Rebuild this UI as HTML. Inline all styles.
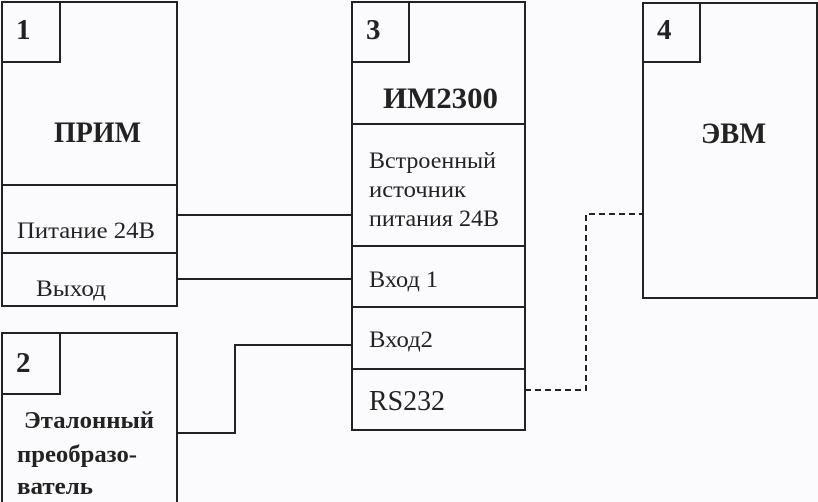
<!DOCTYPE html>
<html><head><meta charset="utf-8"><style>
body{margin:0;background:#fbfbfd;}
svg{display:block;}
text{font-family:"Liberation Serif","DejaVu Serif",serif;fill:#222;}
.b{font-weight:bold;}
</style></head><body>
<svg width="818" height="502" viewBox="0 0 818 502" xmlns="http://www.w3.org/2000/svg">
<g fill="none" stroke="#222" stroke-width="2">
<rect x="2" y="2" width="175" height="304"/>
<polyline points="2,62 60,62 60,2"/>
<line x1="2" y1="185" x2="177" y2="185"/>
<line x1="2" y1="253" x2="177" y2="253"/>
<rect x="2" y="333" width="175" height="183"/>
<polyline points="2,394 60,394 60,333"/>
<rect x="352" y="2" width="173" height="428"/>
<polyline points="352,62 409,62 409,2"/>
<line x1="352" y1="124" x2="525" y2="124"/>
<line x1="352" y1="246" x2="525" y2="246"/>
<line x1="352" y1="307" x2="525" y2="307"/>
<line x1="352" y1="369" x2="525" y2="369"/>
<rect x="643" y="3" width="174" height="295"/>
<polyline points="643,62 700,62 700,3"/>
<line x1="177" y1="215" x2="352" y2="215"/>
<line x1="177" y1="279" x2="352" y2="279"/>
<polyline points="177,433 235,433 235,345 352,345"/>
<polyline stroke-dasharray="6,4" points="525,390 586,390 586,214 643,214"/>
</g>
<text x="16" y="39" font-size="29" class="b">1</text>
<text x="366" y="39" font-size="29" class="b">3</text>
<text x="657" y="39" font-size="29" class="b">4</text>
<text x="16" y="372" font-size="29" class="b">2</text>
<text x="54" y="142" font-size="30" class="b" textLength="87" lengthAdjust="spacingAndGlyphs">ПРИМ</text>
<text x="383" y="108" font-size="30" class="b" textLength="115" lengthAdjust="spacingAndGlyphs">ИМ2300</text>
<text x="701" y="143" font-size="30" class="b" textLength="65" lengthAdjust="spacingAndGlyphs">ЭВМ</text>
<text x="17" y="238" font-size="23" textLength="138" lengthAdjust="spacingAndGlyphs">Питание 24В</text>
<text x="36" y="296" font-size="23" textLength="70" lengthAdjust="spacingAndGlyphs">Выход</text>
<text x="369" y="168" font-size="23" textLength="127" lengthAdjust="spacingAndGlyphs">Встроенный</text>
<text x="369" y="197" font-size="23" textLength="97" lengthAdjust="spacingAndGlyphs">источник</text>
<text x="369" y="226" font-size="23" textLength="130" lengthAdjust="spacingAndGlyphs">питания 24В</text>
<text x="369" y="287" font-size="23" textLength="69" lengthAdjust="spacingAndGlyphs">Вход 1</text>
<text x="369" y="347" font-size="23" textLength="64" lengthAdjust="spacingAndGlyphs">Вход2</text>
<text x="369" y="410" font-size="28" textLength="76" lengthAdjust="spacingAndGlyphs">RS232</text>
<text x="24" y="428" font-size="24" class="b" textLength="130" lengthAdjust="spacingAndGlyphs">Эталонный</text>
<text x="17" y="462" font-size="24" class="b" textLength="120" lengthAdjust="spacingAndGlyphs">преобразо-</text>
<text x="17" y="494" font-size="24" class="b" textLength="76" lengthAdjust="spacingAndGlyphs">ватель</text>
</svg>
</body></html>
